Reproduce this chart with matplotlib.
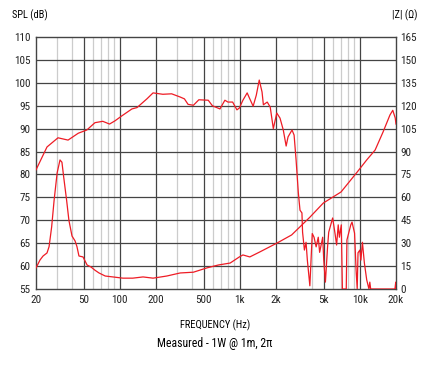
import numpy as np
import matplotlib.pyplot as plt
from matplotlib.ticker import FixedLocator, NullFormatter

plt.rcParams['font.family'] = ['Roboto Condensed', 'Liberation Sans', 'DejaVu Sans']

# SPL response (dB)
spl_freq = [20, 24.7, 30.5, 37, 45, 53, 62, 72, 82, 91, 104, 126, 139, 168, 189,
            228, 270, 318, 345, 370, 410, 455, 545, 590, 682, 750, 795, 870, 945,
            990, 1060, 1150, 1200, 1290, 1370, 1450, 1530, 1570, 1690, 1790, 1900,
            2030, 2160, 2300, 2430, 2520, 2720, 2830, 2940, 3070, 3170, 3290,
            3330, 3450, 3560, 3650, 3830, 4010, 4150, 4320, 4500, 4620, 4900, 5000,
            5160, 5380, 5500, 5930, 6200, 6400, 6600, 6750, 7000, 7150, 7700, 7800,
            8400, 8600, 9030, 9300, 9500, 9650, 10000, 10200, 10500, 10900, 11400,
            11900, 12100, 12300, 19600, 19900, 20000]
spl_db = [81, 86, 88, 87.5, 89, 89.7, 91.3, 91.6, 91, 91.7, 92.8, 94.3, 94.6, 96.5, 97.8,
          97.5, 97.6, 96.9, 96.5, 95.3, 95.1, 96.3, 96.2, 95, 94.3, 96.2, 95.8, 95.8, 94.1,
          94.5, 96.2, 97.8, 96.7, 94.9, 97.3, 100.6, 98, 95.2, 95.8, 94.7, 90,
          93.4, 92.3, 89.7, 86.2, 88.2, 89.7, 88.6, 83.2, 76, 72.2, 71.6,
          67.4, 63.5, 65.2, 61.3, 55.7, 67.1, 66.3, 64.2, 66.3, 63, 66.3, 61.3,
          56.5, 64.2, 67.4, 70.5, 67.2, 64.6, 69, 66.3, 69, 55, 55, 65.7,
          69, 69.6, 67.2, 59.1, 55, 62.9, 63.5, 61.3, 65.2, 60.7, 57,
          55, 56.5, 55, 55, 56.5, 55]

# impedance (ohm)
z_freq = [20, 21.6, 22.9, 24.7, 25.7, 27, 28.3, 30, 31.7, 32.9, 34, 36, 37.6, 39.9,
          42.3, 43.9, 45.6, 49.3, 53.3, 57.5, 62, 67, 75.5, 87.5, 106, 128, 156, 189,
          246, 318, 410, 530, 660, 830, 990, 1060, 1210, 1460, 2030, 2700, 3830, 4960,
          6960, 8400, 9500, 11400, 13400, 15600, 17800, 18800, 19700, 20000]
z_ohm = [13.8, 19, 21.6, 23.6, 27.7, 40.6, 58, 76, 84.5, 83, 73.5, 58, 45, 34.7,
         31.5, 27.7, 21.6, 21, 15.7, 14.4, 12.3, 10.5, 8.5, 7.9, 7.1, 7.1, 7.9, 7.1,
         8.5, 10.5, 11, 13.8, 15.7, 17, 21, 22.3, 21, 24.2, 30, 35.4, 47, 56.3,
         63.5, 71.4, 76.6, 84.5, 91, 102.8, 113.9, 117, 112, 108]

xticks = [20, 50, 100, 200, 500, 1000, 2000, 5000, 10000, 20000]
xlabels = ['20', '50', '100', '200', '500', '1k', '2k', '5k', '10k', '20k']
minor_x = [30, 40, 60, 70, 80, 90, 300, 400, 600, 700, 800, 900,
           3000, 4000, 6000, 7000, 8000, 9000]

red = '#ee1c25'
dark = '#444444'

fig = plt.figure(figsize=(4.3, 3.65), dpi=100)
ax = fig.add_axes([36/430, 76/365, 360/430, 252/365])
ax.set_xscale('log')
ax.set_xlim(20, 20000)
ax.set_ylim(55, 110)

for f in minor_x:
    ax.axvline(f, color='#cccccc', lw=0.9, zorder=1)
for f in xticks[1:-1]:
    ax.axvline(f, color=dark, lw=0.9, zorder=1)
for v in range(60, 110, 5):
    ax.axhline(v, color=dark, lw=0.9, zorder=1)

ax.plot(spl_freq, spl_db, color=red, lw=0.9, zorder=3)

ax.xaxis.set_major_locator(FixedLocator(xticks))
ax.xaxis.set_minor_locator(FixedLocator(minor_x))
ax.xaxis.set_minor_formatter(NullFormatter())
ax.set_xticklabels(xlabels)
ax.set_yticks(range(55, 111, 5))
ax.tick_params(length=0, labelsize=8, pad=4, labelcolor='#222222')
ax.tick_params(which='minor', length=0)
for s in ax.spines.values():
    s.set_color(dark)
    s.set_linewidth(1.0)

ax2 = ax.twinx()
ax2.set_ylim(0, 165)
ax2.set_yticks(range(0, 166, 15))
ax2.tick_params(length=0, labelsize=8, pad=3, labelcolor='#222222')
ax2.plot(z_freq, z_ohm, color=red, lw=0.9, zorder=3)
for s in ax2.spines.values():
    s.set_visible(False)

fig.text(12/430, 1 - 15/365, 'SPL (dB)', fontsize=7.5, va='center', ha='left')
fig.text(418/430, 1 - 15/365, '|Z| (\u03a9)', fontsize=7.5, va='center', ha='right')
fig.text(0.5, 1 - 325/365, 'FREQUENCY (Hz)', fontsize=7.5, ha='center', va='center')
fig.text(0.5, 1 - 344/365, 'Measured - 1W @ 1m, 2\u03c0', fontsize=8.5, ha='center', va='center')

fig.savefig('out.png', dpi=100)
